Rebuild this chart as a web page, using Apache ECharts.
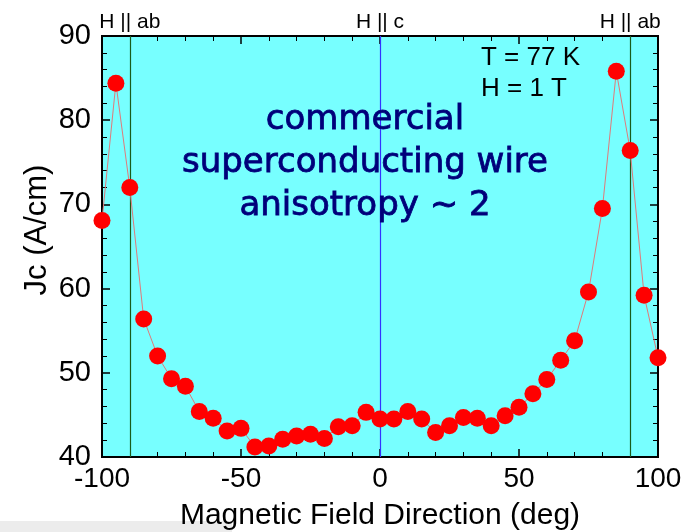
<!DOCTYPE html>
<html>
<head>
<meta charset="utf-8">
<script src="https://cdn.jsdelivr.net/npm/echarts@6/dist/echarts.min.js"></script>
<style>
html,body{margin:0;padding:0;background:#fff;}
#chart{width:689px;height:532px;}
</style>
</head>
<body>
<div id="chart"></div>
<script>
const angles = [-100,-95,-90,-85,-80,-75,-70,-65,-60,-55,-50,-45,-40,-35,-30,-25,-20,-15,-10,-5,0,5,10,15,20,25,30,35,40,45,50,55,60,65,70,75,80,85,90,95,100];
const jc = [68.1,84.4,72.0,56.4,52.0,49.3,48.4,45.4,44.6,43.1,43.4,41.2,41.3,42.1,42.5,42.7,42.2,43.6,43.7,45.3,44.5,44.5,45.4,44.5,42.9,43.7,44.7,44.6,43.7,44.9,45.9,47.5,49.2,51.5,53.8,59.6,69.5,85.8,76.4,59.2,51.8];
const refLines = [
  {x:-90, label:'H || ab', color:'#1a5c1a'},
  {x:0, label:'H || c', color:'#3333ff'},
  {x:90, label:'H || ab', color:'#1a5c1a'}
];
const noteLines = ['T = 77 K','H = 1 T'];
const bigText = ['commercial','superconducting wire','anisotropy ~ 2'];
const yTitle = 'Jc (A/cm)';

const chart = echarts.init(document.getElementById('chart'));
const font = 'Liberation Sans, Arial, sans-serif';
const axisCommon = {
  axisLine:{show:true, onZero:false, lineStyle:{color:'#000', width:2}},
  axisTick:{show:true, inside:true, length:8, lineStyle:{color:'#000', width:1.5}},
  minorTick:{show:true, splitNumber:5, length:5, lineStyle:{color:'#000', width:1}},
  splitLine:{show:false}
};
chart.setOption({
  animation:false,
  backgroundColor:'#ffffff',
  grid:{left:102, right:31, top:36, bottom:75, containLabel:false, outerBoundsMode:'none', show:true, backgroundColor:'#77ffff', borderColor:'#000', borderWidth:2},
  xAxis:[
    Object.assign({type:'value', min:-100, max:100, interval:50, position:'bottom',
      name:'Magnetic Field Direction (deg)', nameLocation:'middle', nameGap:44,
      nameTextStyle:{fontFamily:font, fontSize:30, color:'#000'},
      axisLabel:{fontFamily:font, fontSize:28, color:'#000', margin:8}}, axisCommon),
    Object.assign({type:'value', min:-100, max:100, interval:50, position:'top',
      axisLabel:{show:false}}, axisCommon)
  ],
  yAxis:[
    Object.assign({type:'value', min:40, max:90, interval:10, position:'left',
      axisLabel:{fontFamily:font, fontSize:29, color:'#000', margin:11}}, axisCommon),
    Object.assign({type:'value', min:40, max:90, interval:10, position:'right',
      axisLabel:{show:false}}, axisCommon)
  ],
  series:[
    {
      type:'line', data:angles.map((a,i)=>[a,jc[i]]),
      symbol:'circle', symbolSize:17,
      itemStyle:{color:'#ff0000'},
      lineStyle:{color:'#e07a7a', width:1},
      z:3,
      markLine:{
        silent:true, symbol:'none', z:2,
        data: refLines.map(r=>({xAxis:r.x, lineStyle:{color:r.color, width:1.2, type:'solid'},
          label:{show:true, position:'end', formatter:r.label, fontFamily:font, fontSize:21, color:'#000', distance:3}}))
      }
    }
  ],
  graphic:[
    {type:'rect', left:0, top:521, shape:{width:232, height:11}, style:{fill:'#ececec'}},
    {type:'text', x:37, y:230, rotation:Math.PI/2, z:10, style:{text:yTitle, textAlign:'center', textVerticalAlign:'middle', font:'31px '+font, fill:'#000'}},
    {type:'text', left:481, top:42, z:10, style:{text:noteLines.join('\n'), font:'26px '+font, fill:'#000', lineHeight:31}},
    {type:'text', x:365, y:99, z:10, style:{text:bigText.join('\n'), textAlign:'center', font:'34px "Comic Sans MS", "DejaVu Sans", sans-serif', fill:'#00007a', stroke:'#00007a', lineWidth:0.8, lineHeight:43}}
  ]
});
</script>
</body>
</html>
